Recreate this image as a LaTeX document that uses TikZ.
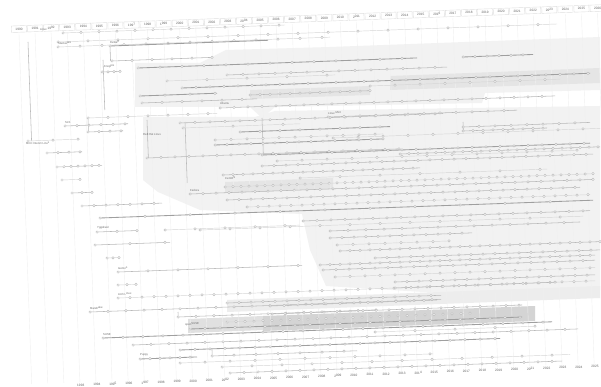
\documentclass[tikz,border=0pt]{standalone}
\usepackage{fontspec}
\setmainfont{Liberation Sans}
\newcommand\tline[5]{%
  \draw[#5] (#1,#2) -- (#3,{#2-0.0361*(#3-#1)});
  \pgfmathtruncatemacro\nmk{(#3-#1)/#4}%
  \foreach \i in {0,...,\nmk}{\pgfmathsetmacro\mx{#1+\i*#4}\draw[mk] (\mx,{#2-0.0361*(\mx-#1)}) circle (1.25pt);}%
}
\newcommand\vcon[3]{\draw[md] (#1,#2) -- ({#1+0.0361*(#3-#2)},#3);}
\begin{document}
\begin{tikzpicture}[x=1pt,y=-1pt,
  mk/.style={draw=gray!60,fill=white,line width=0.35pt},
  dk/.style={draw=gray!75,line width=0.85pt},
  md/.style={draw=gray!55,line width=0.55pt},
  lt/.style={draw=gray!32,line width=0.45pt},
  lab/.style={font=\fontsize{2.8}{3.2}\selectfont,text=gray!85!black,inner sep=0pt,anchor=south west,rotate=2.07},
  yr/.style={font=\fontsize{3.2}{4}\selectfont,text=gray!75!black,rotate=2.07,draw=gray!25,minimum width=15pt,minimum height=6.5pt,inner sep=0.5pt},
  gridl/.style={draw=gray!12,line width=0.4pt},
  region/.style={fill=gray!10},
  band/.style={fill=gray!20}]
\useasboundingbox (0,0) rectangle (601,387);
\clip (0,0) rectangle (601,387);
\fill[white] (0,0) rectangle (601,387);
% family regions
\fill[region] (135,63) -- (200,63) -- (226,50) -- (330,47) -- (600,37) -- (600,90) -- (485,93) -- (482,103) -- (275,107) -- (262,118) -- (250,107) -- (135,107) -- cycle;
\fill[region] (143,117) -- (255,117) -- (275,111) -- (600,106) -- (600,290) -- (440,293) -- (326,286) -- (310,250) -- (302,214) -- (200,210) -- (158,192) -- (143,180) -- cycle;
\fill[band] (250,90) -- (370,86) -- (370,95) -- (250,99) -- cycle;
\fill[band] (390,76) -- (600,68) -- (600,83) -- (390,90) -- cycle;
\fill[band] (225,182) -- (333,178) -- (333,189) -- (225,193) -- cycle;
\fill[gray!14] (227,300) -- (600,286) -- (600,298) -- (227,312) -- cycle;
\fill[gray!24] (188,319) -- (263,316) -- (263,330) -- (188,333) -- cycle;
\fill[gray!34] (263,316) -- (535,306) -- (535,321) -- (263,331) -- cycle;
% year grid and axes
\foreach \k in {0,...,36}{
  \pgfmathsetmacro\xt{19+16.07*\k}
  \pgfmathsetmacro\yt{29-0.0361*(\xt-19)}
  \pgfmathtruncatemacro\yy{1990+\k}
  \draw[gridl] (\xt,\yt+5) -- (\xt+12.7,\yt+355);
  \node[yr] (top\k) at (\xt,\yt) {\yy};
}
\foreach \k in {3,...,35}{
  \pgfmathsetmacro\xb{32.5+16.07*\k}
  \pgfmathsetmacro\yb{377-0.0361*(\xb-305)}
  \pgfmathtruncatemacro\yy{1990+\k}
  \node[yr,draw=none] (bot\k) at (\xb,\yb) {\yy};
}
% connectors between branches
\vcon{28}{42}{141}
\vcon{110}{46}{61}
\vcon{103}{60}{110}
\vcon{88}{118}{132}
\vcon{147}{120}{158}
\vcon{185}{122}{183}
\vcon{262}{118}{155}
\vcon{463}{122}{131}
\vcon{178}{312}{317}
\vcon{212}{350}{356}
% timelines (x1, y1, x2, marker step, style)
\tline{63}{33}{285}{18}{lt}
\tline{58}{42}{557}{30}{lt}
\tline{58}{47}{330}{22}{lt}
\tline{110}{46}{268}{1000}{dk}
\tline{112}{61}{212}{20}{md}
\tline{102}{72}{120}{6}{md}
\tline{138}{68}{417}{22}{dk}
\tline{463}{57}{533}{12}{dk}
\tline{227}{75}{447}{16}{md}
\tline{167}{81}{335}{40}{lt}
\tline{182}{88}{590}{14}{dk}
\tline{250}{95}{370}{10}{md}
\tline{370}{86}{560}{25}{lt}
\tline{140}{96}{217}{25}{dk}
\tline{142}{103}{257}{20}{md}
\tline{220}{108}{555}{14}{md}
\tline{88}{118}{217}{20}{lt}
\tline{65}{126}{128}{12}{md}
\tline{88}{132}{123}{11}{md}
\tline{28}{141}{80}{25}{lt}
\tline{47}{153}{82}{11}{md}
\tline{57}{167}{102}{7}{md}
\tline{62}{180}{80}{18}{lt}
\tline{72}{193}{93}{10}{md}
\tline{82}{206}{162}{12}{md}
\tline{100}{218}{593}{45}{dk}
\tline{97}{232}{137}{20}{md}
\tline{165}{230}{300}{30}{lt}
\tline{95}{245}{170}{35}{md}
\tline{107}{258}{120}{6}{lt}
\tline{118}{272}{302}{30}{md}
\tline{118}{285}{137}{9}{lt}
\tline{118}{298}{595}{12}{lt}
\tline{90}{312}{441}{18}{md}
\tline{178}{317}{377}{18}{md}
\tline{103}{338}{552}{20}{dk}
\tline{133}{345}{578}{18}{md}
\tline{180}{350}{500}{15}{dk}
\tline{212}{356}{357}{22}{md}
\tline{140}{359}{197}{10}{dk}
\tline{180}{363}{433}{25}{lt}
\tline{222}{367}{570}{30}{lt}
\tline{230}{373}{562}{14}{md}
\tline{180}{123}{443}{15}{md}
\tline{183}{128}{300}{50}{lt}
\tline{240}{132}{390}{20}{dk}
\tline{215}{140}{383}{16}{lt}
\tline{215}{145}{383}{12}{dk}
\tline{262}{155}{590}{14}{dk}
\tline{328}{117}{517}{16}{md}
\tline{463}{127}{590}{16}{md}
\tline{463}{131}{547}{10}{md}
\tline{333}{138}{600}{25}{lt}
\tline{147}{158}{400}{14}{md}
\tline{400}{154}{600}{9}{md}
\tline{277}{161}{577}{25}{lt}
\tline{262}{166}{593}{12}{md}
\tline{223}{175}{420}{10}{md}
\tline{300}{178}{547}{40}{lt}
\tline{225}{187}{593}{8}{lt}
\tline{190}{194}{593}{13}{md}
\tline{227}{200}{580}{12}{md}
\tline{247}{207}{590}{11}{lt}
\tline{303}{221}{590}{14}{md}
\tline{200}{230}{583}{30}{lt}
\tline{330}{231}{580}{18}{md}
\tline{330}{238}{472}{12}{md}
\tline{337}{245}{450}{16}{lt}
\tline{340}{251}{600}{10}{md}
\tline{375}{258}{600}{12}{md}
\tline{320}{265}{595}{10}{md}
\tline{323}{270}{595}{13}{md}
\tline{335}{277}{595}{15}{lt}
\tline{395}{282}{595}{12}{md}
\tline{395}{288}{557}{16}{md}
\tline{227}{303}{441}{12}{md}
\tline{270}{306}{437}{14}{md}
\tline{272}{314}{522}{13}{md}
\tline{227}{322}{473}{9}{lt}
\tline{190}{329}{522}{15}{dk}
\tline{375}{332}{535}{40}{lt}
% labels
\node[lab] (n1) at (40,31) {Linux};
\node[lab] (n2) at (58,44.5) {Slackware};
\node[lab] (n3) at (110,43.5) {Debian};
\node[lab] (n4) at (104,68) {Knoppix};
\node[lab] (n5) at (220,105) {Ubuntu};
\node[lab] (n6) at (328,114.5) {Linux Mint};
\node[lab] (n7) at (65,123.5) {SLS};
\node[lab] (n8) at (26,145) {MCC Interim Linux};
\node[lab] (n9) at (143,136) {Red Hat Linux};
\node[lab] (n10) at (190,191.5) {Fedora};
\node[lab] (n11) at (118,269.5) {Gentoo};
\node[lab] (n12) at (118,295.5) {Arch Linux};
\node[lab] (n13) at (90,309.5) {Mandrake};
\node[lab] (n14) at (185,326) {openSUSE};
\node[lab] (n15) at (103,335.5) {SUSE};
\node[lab] (n16) at (140,356.5) {Puppy};
\node[lab] (n17) at (225,179.5) {CentOS};
\node[lab] (n18) at (97,229.5) {Yggdrasil};
\end{tikzpicture}
\end{document}
